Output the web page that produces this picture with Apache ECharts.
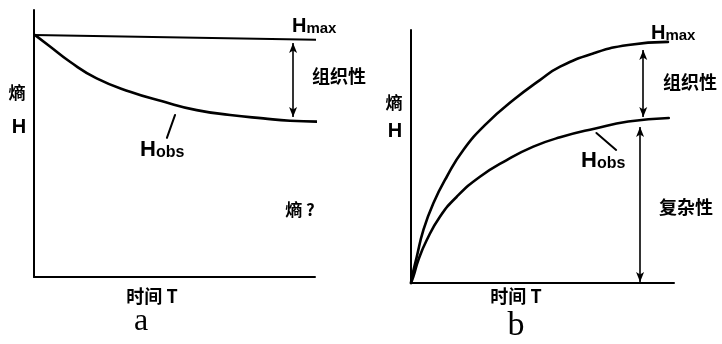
<!DOCTYPE html>
<html><head><meta charset="utf-8">
<style>html,body{margin:0;padding:0;background:#fff}#c{width:722px;height:344px}</style>
<script src="https://cdn.jsdelivr.net/npm/echarts@6/dist/echarts.min.js"></script>
</head><body><div id="c"></div>
<script>
// Panel a data (time in %, entropy in %)
const timeA = [0.4, 5.7, 12.8, 22.3, 34.2, 46.0, 57.9, 69.8, 81.6, 91.1, 100.6];
const hobsA = [90.6, 86.3, 80.6, 74.4, 69.4, 65.7, 62.5, 60.7, 59.4, 58.5, 58.2];
const hmaxTimeA = [0, 103];
const hmaxA = [90.6, 88.8];
// Panel b data
const timeB1 = [0, 0.27, 2.2, 4.7, 8.5, 13.6, 19.9, 28.8, 38.9, 49.0, 56.7, 69.7, 82.6, 97.7];
const hmaxB = [0, 2.0, 10.4, 20.9, 31.5, 42.0, 52.6, 63.1, 72.3, 80.2, 85.5, 90.9, 94.1, 95.3];
const timeB2 = [0, 0.9, 2.8, 6.0, 11.0, 17.4, 26.2, 36.4, 46.5, 56.7, 69.7, 82.6, 98];
const hobsB = [0, 2.5, 9.1, 17.0, 26.2, 34.1, 42.0, 48.6, 53.9, 57.6, 61.0, 63.8, 65.2];
// Annotation arrows (x, y1, y2)
const arrowA = [92.2, 87.6, 59.9];
const arrowB1 = [88.3, 92.1, 65.6];
const arrowB2 = [87.1, 61.7, 0.4];
// Pointer lines to Hobs labels
const pointerA = [[50.2, 60.7], [47.3, 52.1]];
const pointerB = [[70.5, 59.3], [78, 52.6]];

const zip = (xs, ys) => xs.map((x, i) => [x, ys[i]]);
const chart = echarts.init(document.getElementById('c'));
const axisBase = {
  type: 'value', min: 0, max: 100,
  axisLine: {show: true, lineStyle: {color: '#000', width: 2}},
  axisTick: {show: false}, axisLabel: {show: false}, splitLine: {show: false}
};
const curve = (name, data, xi, w) => ({
  type: 'line', name, data, xAxisIndex: xi, yAxisIndex: xi, showSymbol: false, symbol: 'none',
  smooth: 0.5, clip: false, lineStyle: {color: '#000', width: w || 2.6, cap: 'round', join: 'round'}, silent: true
});
const arrowLine = (a) => [{coord: [a[0], a[1]]}, {coord: [a[0], a[2]]}];
const mark = (arrs) => ({
  silent: true, symbol: ['arrow', 'arrow'], symbolSize: [6, 10],
  lineStyle: {color: '#000', width: 1.6, type: 'solid'}, label: {show: false},
  data: arrs.map(arrowLine), animation: false
});
const cjk = '"Noto Sans CJK SC", sans-serif';
const lat = '"Liberation Sans", Arial, sans-serif';
const txt = (text, x, y, size, align, fam) => ({
  type: 'text', x, y, style: {text, fill: '#000', font: 'bold ' + size + 'px ' + (fam || cjk), align: align || 'left', verticalAlign: 'middle'}
});
const sub = (main, s, x, y, s1, s2) => ({
  type: 'text', x, y, style: {
    text: '{a|' + main + '}{b|' + s + '}', fill: '#000', align: 'left', verticalAlign: 'middle',
    rich: {a: {font: 'bold ' + s1 + 'px ' + lat, fill: '#000', verticalAlign: 'bottom'}, b: {font: 'bold ' + s2 + 'px ' + lat, fill: '#000', verticalAlign: 'bottom'}}
  }
});

chart.setOption({
  animation: false,
  grid: [
    {left: 34, top: 10, width: 281, height: 267},
    {left: 411, top: 30, width: 263, height: 253}
  ],
  xAxis: [Object.assign({gridIndex: 0}, axisBase), Object.assign({gridIndex: 1}, axisBase)],
  yAxis: [Object.assign({gridIndex: 0}, axisBase), Object.assign({gridIndex: 1}, axisBase)],
  series: [
    Object.assign(curve('Hmax a', zip(hmaxTimeA, hmaxA), 0, 2), {smooth: false, markLine: mark([arrowA])}),
    curve('Hobs a', zip(timeA, hobsA), 0),
    Object.assign(curve('ptr a', pointerA, 0, 2), {smooth: false}),
    Object.assign(curve('Hmax b', zip(timeB1, hmaxB), 1), {markLine: mark([arrowB1, arrowB2])}),
    curve('Hobs b', zip(timeB2, hobsB), 1),
    Object.assign(curve('ptr b', pointerB, 1, 2), {smooth: false})
  ],
  graphic: [
    sub('H', 'max', 292, 26, 20, 15),
    txt('组织性', 312, 76, 18),
    txt('熵', 17, 93, 17, 'center'),
    txt('H', 19, 127, 20, 'center', lat),
    sub('H', 'obs', 140, 150, 22, 16),
    txt('熵 ?', 300, 210, 17, 'center'),
    txt('时间 T', 152, 296, 18, 'center'),
    {type: 'text', x: 141, y: 322, style: {text: 'a', fill: '#000', font: '32px "Liberation Serif", serif', align: 'center', verticalAlign: 'middle'}},
    sub('H', 'max', 651, 33, 20, 15),
    txt('组织性', 663, 82, 18),
    txt('熵', 394, 103, 17, 'center'),
    txt('H', 395, 131, 20, 'center', lat),
    sub('H', 'obs', 581, 161, 22, 16),
    txt('复杂性', 659, 207, 18),
    txt('时间 T', 516, 296, 18, 'center'),
    {type: 'text', x: 516, y: 326, style: {text: 'b', fill: '#000', font: '34px "Liberation Serif", serif', align: 'center', verticalAlign: 'middle'}}
  ]
});
</script></body></html>
